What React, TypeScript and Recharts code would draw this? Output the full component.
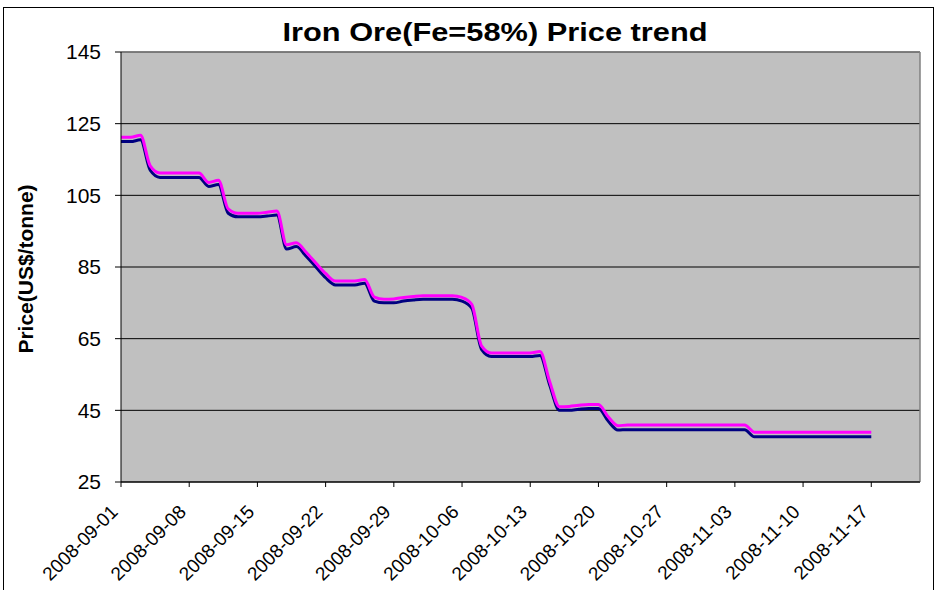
import React from 'react';
import { LineChart, Line, XAxis, YAxis, CartesianGrid, ReferenceLine, Customized } from 'recharts';

// one point per calendar day, starting 2008-09-01
const navy = [
    120, 120, 120.5, 112, 110, 110, 110, 110, 110, 107.5,
    108, 100, 99, 99, 99, 99.2, 99.5, 90, 90.7, 88,
    85, 82, 80, 80, 80, 80.5, 75.5, 75, 75, 75.5,
    75.8, 76, 76, 76, 76, 75.5, 73.5, 62, 60, 60,
    60, 60, 60, 60.3, 52, 45, 45, 45.3, 45.5, 45.5,
    42, 39.5, 39.6, 39.6, 39.6, 39.6, 39.6, 39.6, 39.6, 39.6,
    39.6, 39.6, 39.6, 39.6, 39.6, 37.6, 37.6, 37.6, 37.6, 37.6,
    37.6, 37.6, 37.6, 37.6, 37.6, 37.6, 37.6, 37.6,
];
const magenta = [
    121.2, 121.2, 121.8, 113.2, 111.2, 111.2, 111.2, 111.2, 111.2, 108.6,
    109.2, 101.2, 100, 100, 100, 100.3, 100.6, 91.2, 91.8, 89.1,
    86.1, 83.2, 81.1, 81.1, 81.1, 81.5, 76.6, 76, 76.1, 76.5,
    76.8, 77, 77, 77, 77, 76.5, 74.6, 63, 61, 61,
    61, 61, 61, 61.4, 53, 46, 46.1, 46.4, 46.6, 46.6,
    43.2, 40.7, 40.9, 40.9, 40.9, 40.9, 40.9, 40.9, 40.9, 40.9,
    40.9, 40.9, 40.9, 40.9, 40.9, 38.9, 38.9, 38.9, 38.9, 38.9,
    38.9, 38.9, 38.9, 38.9, 38.9, 38.9, 38.9, 38.9,
];
const tickDays = [0, 7, 14, 21, 28, 35, 42, 49, 56, 63, 70, 77];
const tickLabels = [
    '2008-09-01', '2008-09-08', '2008-09-15', '2008-09-22', '2008-09-29', '2008-10-06',
    '2008-10-13', '2008-10-20', '2008-10-27', '2008-11-03', '2008-11-10', '2008-11-17',
];
const yTicks = [25, 45, 65, 85, 105, 125, 145];

const data = navy.map((v, i) => ({ day: i, navy: v, magenta: magenta[i] }));

const FONT = '"Liberation Sans", Arial, sans-serif';

const DateTick = ({ x, y, payload }: any) => {
    const idx = tickDays.indexOf(payload.value);
    return (
        <g transform={`translate(${x - 2},${y + 24})`}>
            <text x={0} y={0} textAnchor="end" transform="rotate(-45)" fontSize={19} fontFamily={FONT} fill="#000">
                {tickLabels[idx]}
            </text>
        </g>
    );
};

const Title = () => (
    <text x={495} y={41} textAnchor="middle" fontSize={25} fontWeight="bold" fontFamily={FONT} fill="#000"
        textLength={425} lengthAdjust="spacingAndGlyphs">
        Iron Ore(Fe=58%) Price trend
    </text>
);

const YLabel = () => (
    <text x={33} y={269} textAnchor="middle" transform="rotate(-90 33 269)" fontSize={21} fontWeight="bold" fontFamily={FONT} fill="#000">
        Price(US$/tonne)
    </text>
);

const App = () => {
    return (
        <div style={{ position: 'absolute', left: 0, top: 0, width: 937, height: 590, background: '#fff' }}>
            <div style={{ position: 'absolute', left: 3, top: 7, width: 929, height: 600, border: '1px solid #000', pointerEvents: 'none' }} />
            <LineChart width={937} height={590} data={data}
                margin={{ top: 52, right: 17, left: 0, bottom: 0 }}>
                <CartesianGrid fill="#C0C0C0" stroke="#000" vertical={false} strokeOpacity={1} />
                <XAxis dataKey="day" type="number" domain={[0, 82]} ticks={tickDays} interval={0}
                    height={108} tick={<DateTick />} tickSize={5} stroke="#000" axisLine={{ stroke: '#000' }} tickLine={{ stroke: '#000' }} />
                <YAxis type="number" domain={[25, 145]} ticks={yTicks} interval={0} width={121}
                    tickSize={6} tickMargin={14} stroke="#000"
                    tick={{ fontSize: 21, fontFamily: FONT, fill: '#000' }} />
                <ReferenceLine x={82} stroke="#808080" strokeWidth={1.5} />
                <ReferenceLine y={145} stroke="#808080" strokeWidth={1.5} />
                <Line type="monotone" dataKey="navy" stroke="#000080" strokeWidth={3} dot={false} isAnimationActive={false} />
                <Line type="monotone" dataKey="magenta" stroke="#FF00FF" strokeWidth={3} dot={false} isAnimationActive={false} />
                <Customized component={Title} />
                <Customized component={YLabel} />
            </LineChart>
        </div>
    );
};

export default App;
